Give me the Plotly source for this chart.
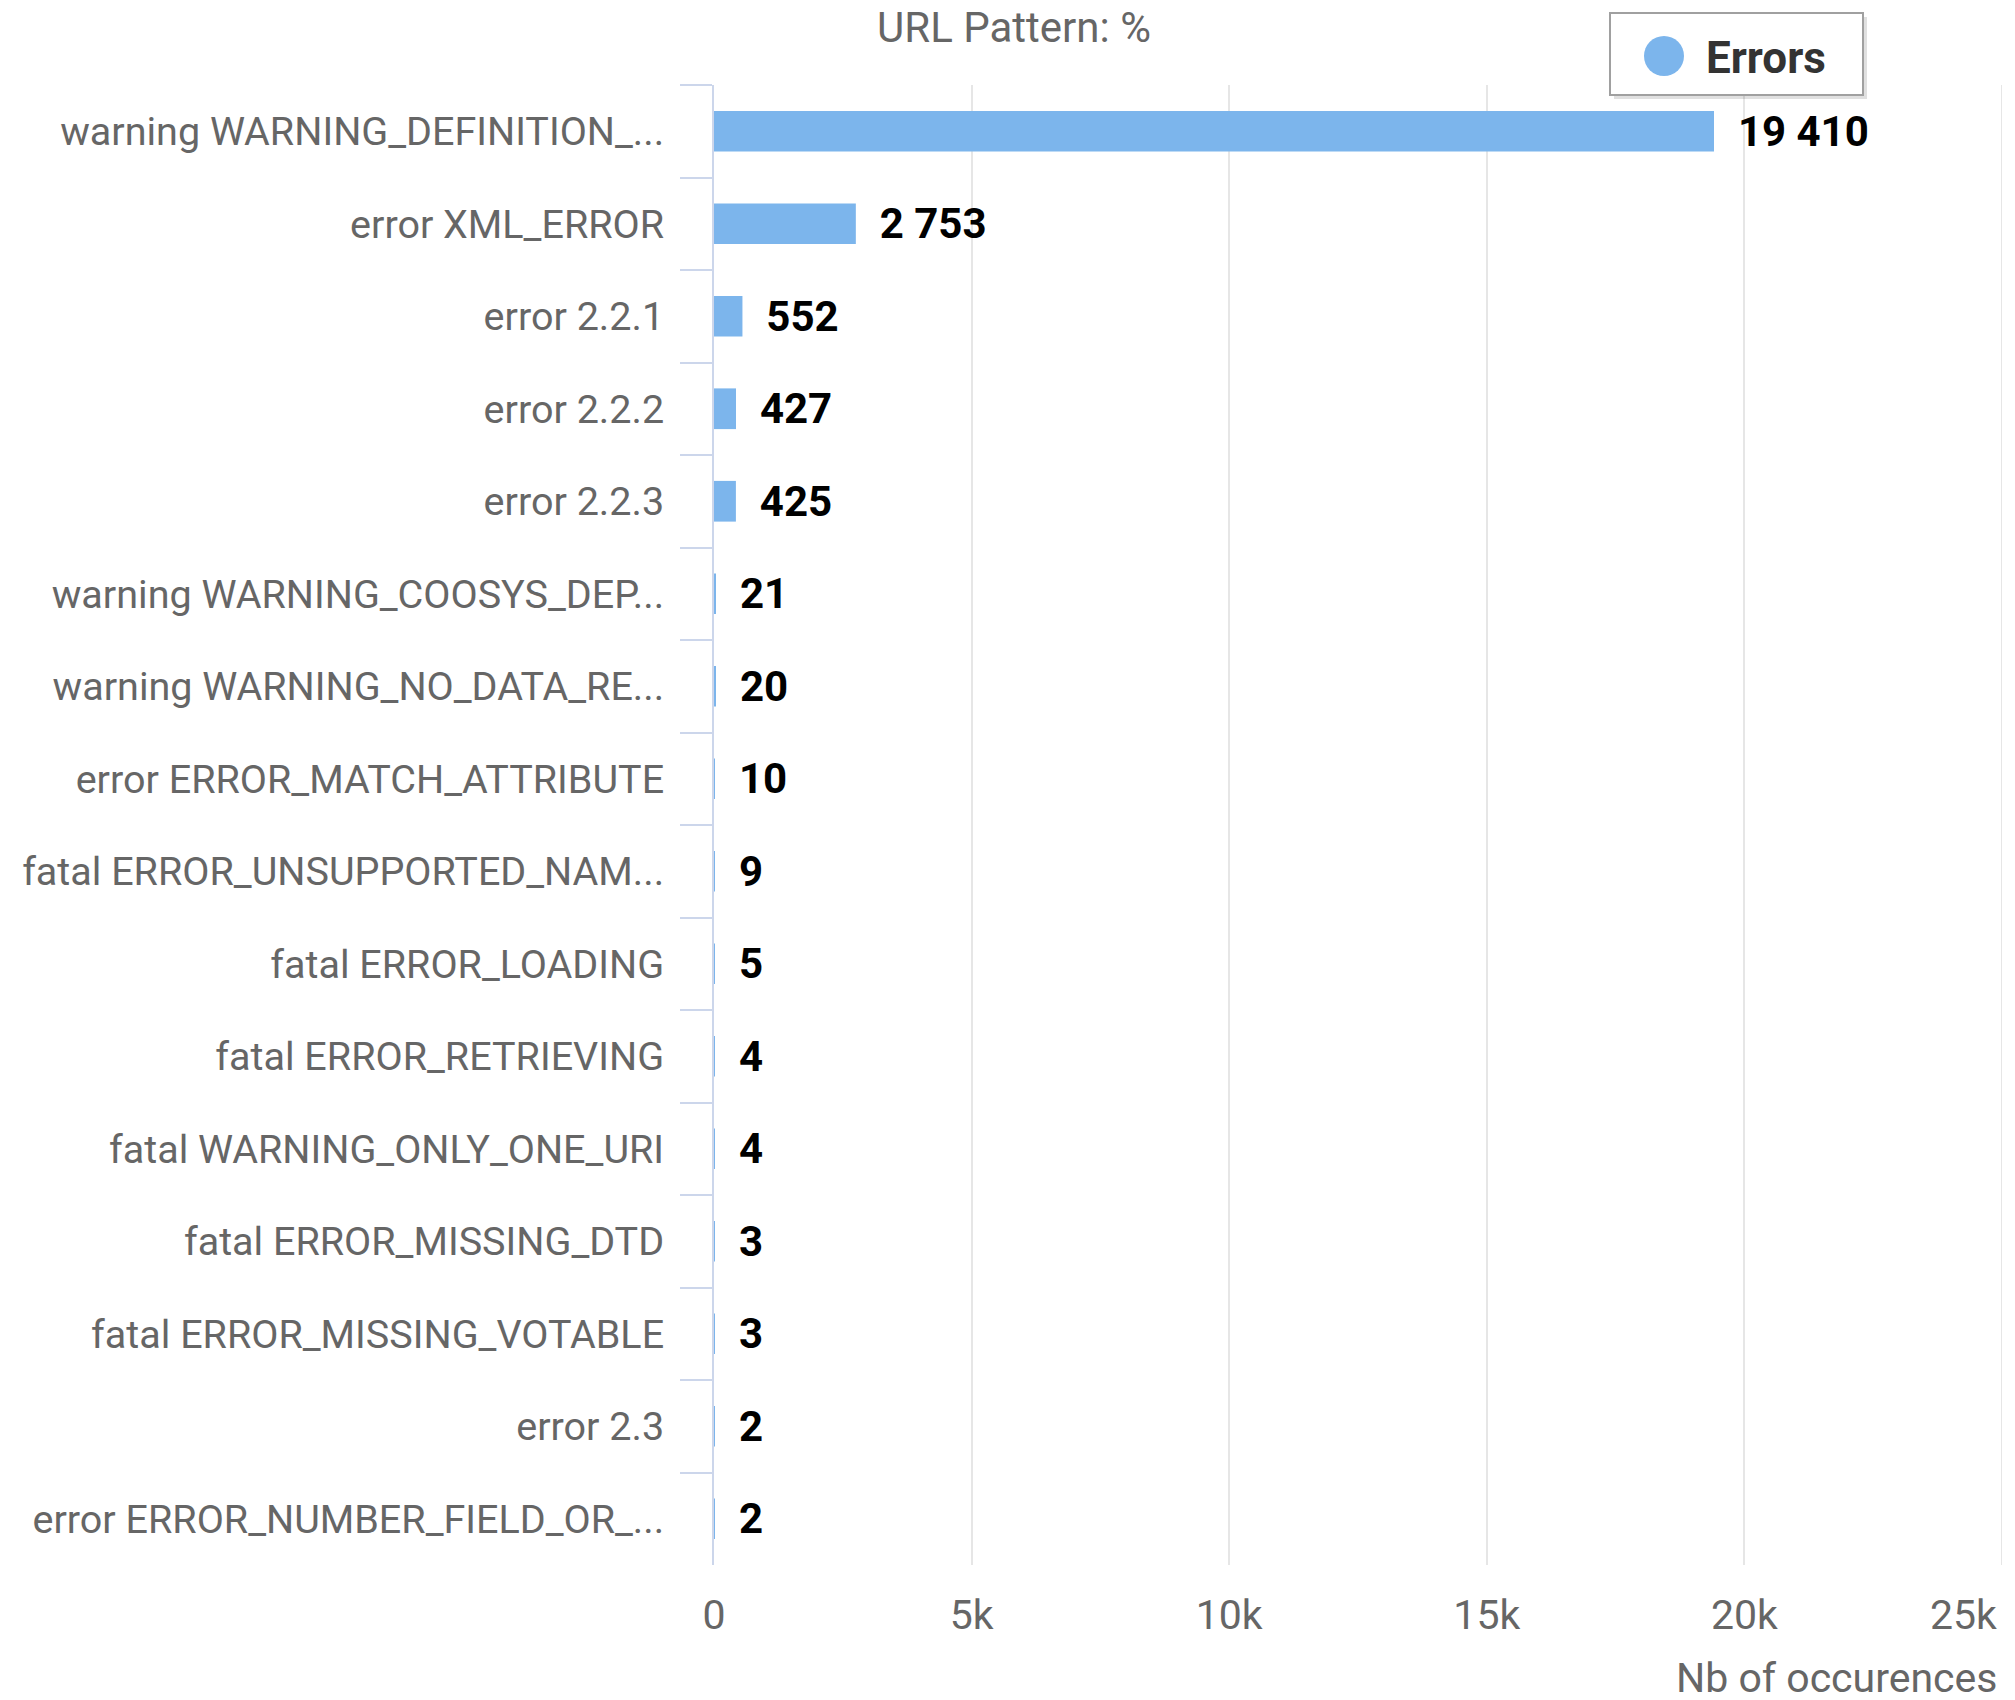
import plotly.graph_objects as go

# data
patterns = [
    "warning WARNING_DEFINITION_...",
    "error XML_ERROR",
    "error 2.2.1",
    "error 2.2.2",
    "error 2.2.3",
    "warning WARNING_COOSYS_DEP...",
    "warning WARNING_NO_DATA_RE...",
    "error ERROR_MATCH_ATTRIBUTE",
    "fatal ERROR_UNSUPPORTED_NAM...",
    "fatal ERROR_LOADING",
    "fatal ERROR_RETRIEVING",
    "fatal WARNING_ONLY_ONE_URI",
    "fatal ERROR_MISSING_DTD",
    "fatal ERROR_MISSING_VOTABLE",
    "error 2.3",
    "error ERROR_NUMBER_FIELD_OR_...",
]
occurences = [19410, 2753, 552, 427, 425, 21, 20, 10, 9, 5, 4, 4, 3, 3, 2, 2]
x_ticks = [0, 5000, 10000, 15000, 20000, 25000]
x_tick_labels = ["0", "5k", "10k", "15k", "20k", ""]

# page is 2015x1700 but the html body adds an 8px margin
OFF = 8
W, H = 2015 - OFF, 1700 - OFF
L, R, T, B = 714 - OFF, 13, 85 - OFF, 135
FONT = "Roboto"
BAR = "#7cb5ec"


def px_x(p):
    # page pixel -> paper coordinate
    return (p - OFF - L) / (W - L - R)


def px_y(p):
    return (H - B - (p - OFF)) / (H - T - B)


fig = go.Figure()

fig.add_trace(go.Bar(
    y=patterns,
    x=occurences,
    orientation="h",
    name="Errors",
    marker=dict(color=BAR, line=dict(width=0)),
    texttemplate="\u00a0\u00a0%{x:,}",
    textposition="outside",
    constraintext="none",
    cliponaxis=False,
    textfont=dict(family=FONT, size=42, color="#000000", weight="bold"),
    showlegend=False,
))

# grid line on the right edge of the plot
fig.add_shape(type="line", xref="x", yref="paper",
              x0=x_ticks[-1], x1=x_ticks[-1], y0=0, y1=1,
              line=dict(color="#e6e6e6", width=2), layer="below")

# legend box drawn by hand (circle symbol like the original)
fig.add_shape(type="rect", xref="paper", yref="paper",
              x0=px_x(1614), x1=px_x(1867), y0=px_y(99), y1=px_y(17),
              fillcolor="rgba(0,0,0,0.12)", line=dict(width=0), layer="above")
fig.add_shape(type="rect", xref="paper", yref="paper",
              x0=px_x(1610), x1=px_x(1863), y0=px_y(95), y1=px_y(13),
              fillcolor="white", line=dict(color="#a0a0a0", width=2), layer="above")
fig.add_shape(type="circle", xref="paper", yref="paper",
              x0=px_x(1644), x1=px_x(1684), y0=px_y(76), y1=px_y(36),
              fillcolor=BAR, line=dict(width=0), layer="above")
fig.add_annotation(text="Errors", xref="paper", yref="paper",
                   x=px_x(1704), y=px_y(58), xanchor="left", yanchor="middle",
                   showarrow=False,
                   font=dict(family=FONT, size=44, color="#333333", weight="bold"))

# last tick label kept inside the chart, as in the original
fig.add_annotation(text="25k", xref="x", yref="paper",
                   x=x_ticks[-1], y=px_y(1615), xanchor="right", yanchor="middle",
                   xshift=-3, showarrow=False,
                   font=dict(family=FONT, size=41, color="#666666"))

fig.add_annotation(text="Nb of occurences", xref="paper", yref="paper",
                   x=px_x(1999), y=px_y(1678), xanchor="right", yanchor="middle",
                   showarrow=False, font=dict(family=FONT, size=41, color="#666666"))

fig.update_layout(
    width=W,
    height=H,
    margin=dict(l=L, r=R, t=T, b=B, autoexpand=False),
    paper_bgcolor="white",
    plot_bgcolor="white",
    separators=". ",
    bargap=0.56,
    title=dict(text="URL Pattern: %", x=(1014 - OFF) / W, xanchor="center",
               y=1 - (27 - OFF) / H, yanchor="middle", yref="container",
               font=dict(family=FONT, size=42, color="#666666")),
    xaxis=dict(
        range=[0, 25000],
        tickvals=x_ticks,
        ticktext=x_tick_labels,
        showgrid=True,
        gridcolor="#e6e6e6",
        gridwidth=2,
        zeroline=False,
        showline=False,
        ticks="",
        ticklabelstandoff=22,
        tickfont=dict(family=FONT, size=41, color="#666666"),
    ),
    yaxis=dict(
        autorange="reversed",
        showgrid=False,
        showline=True,
        linecolor="#ccd6eb",
        linewidth=2,
        ticks="outside",
        tickson="boundaries",
        ticklen=32,
        tickwidth=2,
        tickcolor="#ccd6eb",
        ticklabelstandoff=40,
        tickfont=dict(family=FONT, size=39.5, color="#666666"),
    ),
)

fig.write_html("out.html")
